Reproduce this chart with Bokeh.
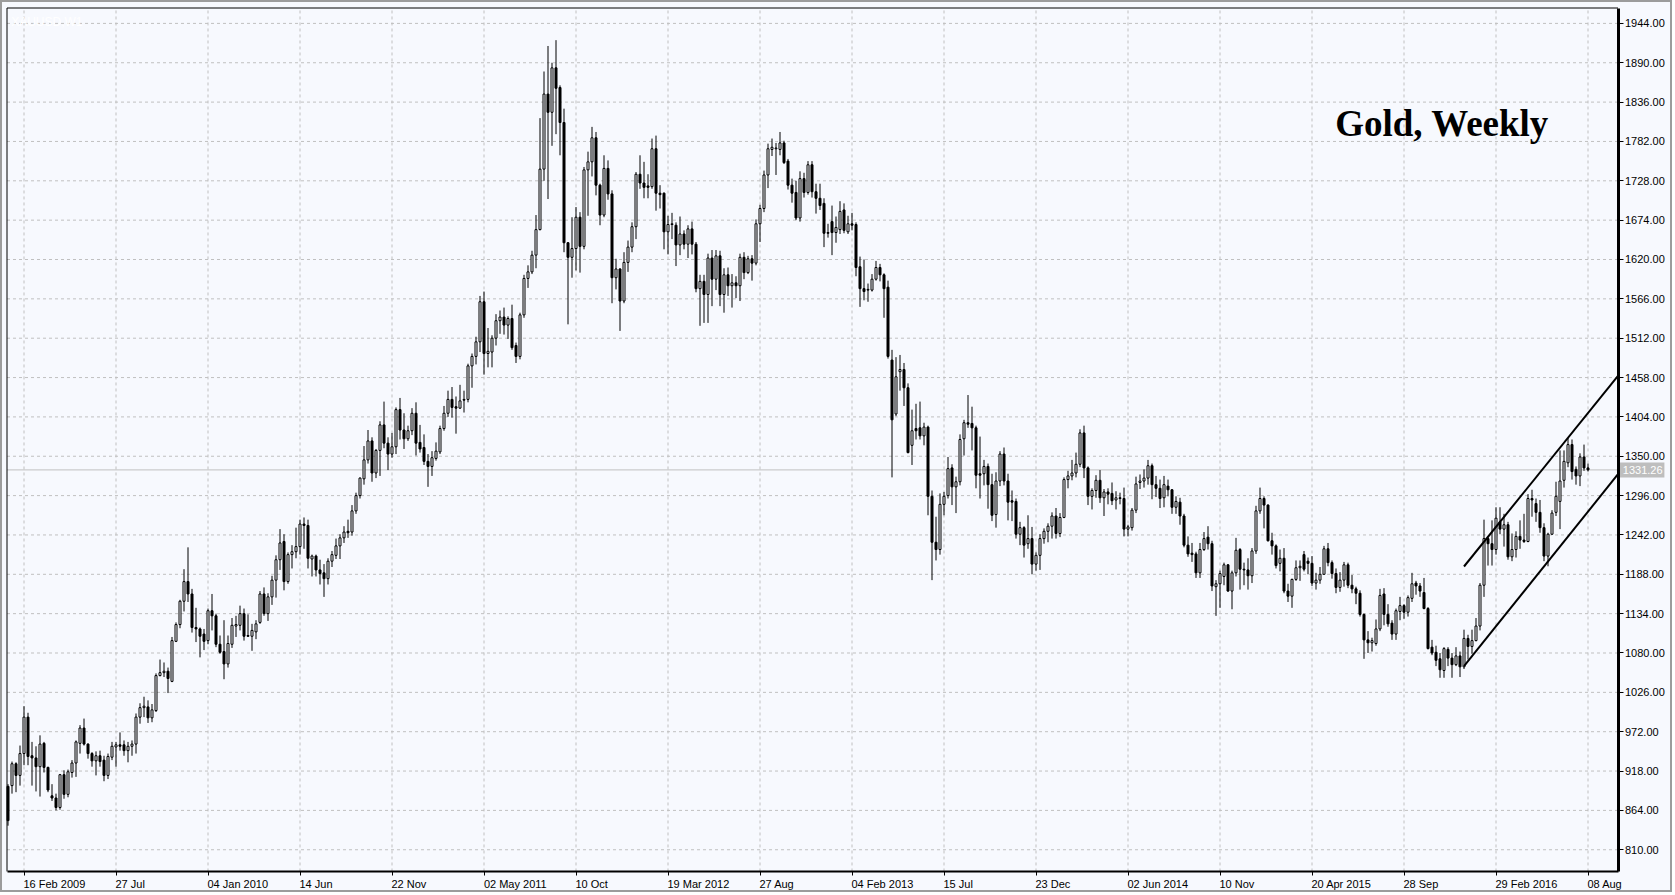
from bokeh.plotting import figure
from bokeh.models import Range1d, FixedTicker, PrintfTickFormatter, LinearAxis
from bokeh.embed import file_html
from bokeh.resources import INLINE
from bokeh.core.properties import value

# ---------------- data (weekly XAUUSD candles, Jan 2009 - Aug 2016) ----------------
opens = [
    897, 898, 928, 912, 942, 992, 939, 936, 924, 956,
    923, 884, 881, 868, 913, 886, 916, 929, 956, 977,
    955, 942, 932, 939, 933, 912, 937, 951, 954, 954,
    946, 952, 955, 992, 1005, 1006, 991, 1001, 1049, 1053,
    1055, 1041, 1096, 1119, 1151, 1178, 1161, 1115, 1113, 1106,
    1097, 1138, 1131, 1092, 1082, 1065, 1092, 1117, 1118, 1134,
    1104, 1103, 1109, 1122, 1161, 1134, 1157, 1180, 1208, 1233,
    1178, 1215, 1219, 1226, 1257, 1255, 1209, 1213, 1194, 1190,
    1182, 1206, 1214, 1227, 1238, 1247, 1246, 1275, 1296, 1319,
    1345, 1371, 1327, 1358, 1393, 1368, 1353, 1363, 1414, 1386,
    1374, 1385, 1409, 1369, 1362, 1343, 1336, 1347, 1356, 1388,
    1409, 1428, 1418, 1416, 1428, 1428, 1474, 1487, 1507, 1562,
    1491, 1493, 1512, 1536, 1541, 1530, 1539, 1502, 1487, 1544,
    1594, 1603, 1626, 1661, 1744, 1847, 1822, 1883, 1856, 1808,
    1643, 1623, 1635, 1678, 1638, 1743, 1754, 1787, 1722, 1681,
    1745, 1710, 1595, 1607, 1563, 1616, 1637, 1665, 1737, 1725,
    1721, 1720, 1772, 1711, 1711, 1658, 1668, 1667, 1640, 1655,
    1641, 1662, 1641, 1580, 1590, 1572, 1622, 1593, 1625, 1572,
    1599, 1584, 1588, 1584, 1623, 1602, 1621, 1615, 1669, 1690,
    1736, 1771, 1772, 1771, 1780, 1755, 1722, 1712, 1677, 1731,
    1712, 1750, 1713, 1704, 1697, 1657, 1672, 1657, 1661, 1688,
    1658, 1669, 1668, 1610, 1580, 1579, 1578, 1593, 1609, 1599,
    1582, 1482, 1408, 1466, 1469, 1444, 1365, 1388, 1389, 1378,
    1390, 1295, 1232, 1222, 1284, 1296, 1334, 1308, 1315, 1374,
    1396, 1395, 1389, 1326, 1326, 1336, 1311, 1270, 1316, 1353,
    1316, 1289, 1288, 1243, 1252, 1230, 1237, 1202, 1214, 1237,
    1247, 1254, 1268, 1244, 1266, 1318, 1323, 1327, 1339, 1382,
    1334, 1295, 1303, 1317, 1293, 1301, 1299, 1290, 1293, 1292,
    1250, 1252, 1276, 1314, 1316, 1320, 1337, 1311, 1306, 1293,
    1309, 1304, 1280, 1287, 1268, 1228, 1217, 1216, 1190, 1222,
    1239, 1230, 1171, 1175, 1185, 1201, 1165, 1190, 1222, 1195,
    1194, 1186, 1220, 1275, 1292, 1283, 1234, 1227, 1203, 1210,
    1165, 1158, 1181, 1197, 1215, 1206, 1203, 1176, 1180, 1188,
    1223, 1204, 1189, 1170, 1180, 1201, 1173, 1168, 1162, 1133,
    1098, 1094, 1093, 1113, 1161, 1133, 1121, 1106, 1137, 1145,
    1136, 1155, 1176, 1172, 1163, 1141, 1088, 1081, 1072, 1056,
    1085, 1073, 1064, 1076, 1061, 1100, 1089, 1097, 1117, 1173,
    1237, 1230, 1222, 1260, 1250, 1256, 1212, 1222, 1240, 1235,
    1233, 1292, 1285, 1273, 1252, 1213, 1243, 1273, 1288, 1317,
    1341, 1366, 1332, 1323, 1349, 1334,
]
highs = [
    900, 931, 930, 953, 1007, 998, 958, 952, 967, 958,
    924, 900, 887, 914, 919, 920, 933, 960, 981, 990,
    956, 944, 945, 946, 939, 942, 958, 958, 971, 960,
    958, 960, 997, 1011, 1020, 1015, 1010, 1052, 1071, 1067,
    1060, 1102, 1122, 1153, 1195, 1225, 1168, 1142, 1115, 1113,
    1141, 1161, 1134, 1104, 1125, 1104, 1128, 1131, 1145, 1141,
    1133, 1120, 1125, 1165, 1170, 1162, 1186, 1214, 1250, 1243,
    1218, 1228, 1252, 1263, 1266, 1263, 1215, 1215, 1208, 1202,
    1210, 1220, 1237, 1243, 1254, 1263, 1283, 1300, 1321, 1364,
    1386, 1376, 1360, 1398, 1425, 1376, 1382, 1417, 1430, 1409,
    1392, 1416, 1424, 1393, 1380, 1353, 1357, 1369, 1392, 1419,
    1440, 1445, 1432, 1448, 1440, 1477, 1491, 1514, 1570, 1576,
    1526, 1516, 1545, 1550, 1554, 1542, 1558, 1506, 1547, 1599,
    1612, 1632, 1681, 1814, 1878, 1913, 1890, 1921, 1859, 1827,
    1644, 1678, 1692, 1685, 1747, 1768, 1802, 1795, 1724, 1763,
    1756, 1715, 1621, 1608, 1630, 1646, 1671, 1740, 1763, 1754,
    1737, 1786, 1790, 1722, 1712, 1680, 1684, 1671, 1679, 1660,
    1667, 1672, 1644, 1599, 1599, 1628, 1633, 1633, 1632, 1608,
    1609, 1600, 1597, 1628, 1630, 1625, 1626, 1675, 1695, 1742,
    1779, 1786, 1780, 1795, 1783, 1758, 1731, 1728, 1741, 1739,
    1755, 1755, 1724, 1724, 1704, 1669, 1694, 1679, 1700, 1697,
    1680, 1684, 1671, 1624, 1620, 1587, 1600, 1618, 1614, 1601,
    1591, 1496, 1486, 1489, 1478, 1450, 1414, 1422, 1425, 1396,
    1392, 1303, 1267, 1299, 1301, 1349, 1339, 1322, 1380, 1400,
    1434, 1418, 1392, 1377, 1345, 1340, 1326, 1328, 1357, 1362,
    1326, 1303, 1292, 1260, 1254, 1269, 1253, 1218, 1243, 1251,
    1258, 1273, 1279, 1272, 1321, 1330, 1345, 1355, 1387, 1392,
    1336, 1306, 1324, 1331, 1305, 1306, 1314, 1302, 1300, 1307,
    1256, 1279, 1322, 1325, 1332, 1345, 1340, 1323, 1318, 1323,
    1318, 1305, 1295, 1293, 1271, 1240, 1231, 1219, 1231, 1246,
    1254, 1234, 1180, 1193, 1204, 1202, 1193, 1238, 1224, 1204,
    1210, 1224, 1282, 1307, 1295, 1284, 1245, 1229, 1222, 1224,
    1175, 1182, 1207, 1207, 1220, 1211, 1213, 1190, 1198, 1227,
    1231, 1207, 1196, 1191, 1205, 1204, 1187, 1171, 1166, 1134,
    1110, 1101, 1126, 1168, 1169, 1147, 1125, 1141, 1157, 1147,
    1159, 1190, 1179, 1176, 1183, 1143, 1098, 1090, 1080, 1088,
    1088, 1080, 1088, 1082, 1112, 1105, 1112, 1128, 1176, 1263,
    1240, 1262, 1280, 1280, 1271, 1260, 1244, 1247, 1262, 1271,
    1298, 1304, 1292, 1290, 1258, 1245, 1276, 1315, 1358, 1358,
    1375, 1373, 1336, 1354, 1366, 1340,
]
lows = [
    843, 887, 889, 898, 926, 926, 898, 890, 883, 916,
    889, 877, 864, 865, 880, 882, 909, 910, 942, 953,
    935, 924, 912, 924, 904, 907, 933, 924, 946, 939,
    930, 939, 942, 983, 992, 984, 985, 999, 1048, 1047,
    1025, 1040, 1095, 1114, 1137, 1150, 1108, 1095, 1074, 1084,
    1092, 1111, 1088, 1079, 1044, 1060, 1087, 1102, 1111, 1097,
    1102, 1083, 1099, 1120, 1131, 1124, 1146, 1156, 1194, 1166,
    1175, 1196, 1210, 1215, 1223, 1196, 1185, 1185, 1174, 1157,
    1174, 1198, 1209, 1209, 1231, 1238, 1241, 1271, 1292, 1311,
    1340, 1315, 1320, 1323, 1361, 1331, 1348, 1353, 1373, 1360,
    1371, 1379, 1351, 1355, 1338, 1308, 1323, 1344, 1353, 1385,
    1404, 1403, 1381, 1415, 1410, 1424, 1444, 1476, 1493, 1462,
    1472, 1472, 1502, 1518, 1517, 1511, 1496, 1478, 1483, 1540,
    1581, 1600, 1608, 1660, 1728, 1703, 1776, 1792, 1763, 1630,
    1531, 1595, 1605, 1602, 1634, 1680, 1734, 1708, 1667, 1678,
    1702, 1560, 1579, 1522, 1560, 1603, 1630, 1648, 1717, 1704,
    1704, 1717, 1687, 1690, 1634, 1627, 1648, 1611, 1626, 1634,
    1622, 1627, 1575, 1529, 1533, 1533, 1556, 1578, 1556, 1547,
    1570, 1554, 1567, 1563, 1593, 1600, 1591, 1612, 1644, 1685,
    1718, 1762, 1736, 1763, 1751, 1716, 1698, 1674, 1672, 1705,
    1709, 1705, 1683, 1688, 1637, 1650, 1626, 1643, 1655, 1656,
    1655, 1660, 1597, 1555, 1564, 1562, 1576, 1591, 1590, 1540,
    1484, 1321, 1405, 1440, 1419, 1354, 1338, 1373, 1373, 1365,
    1269, 1180, 1207, 1215, 1269, 1292, 1283, 1272, 1310, 1351,
    1389, 1358, 1306, 1292, 1310, 1278, 1261, 1252, 1309, 1310,
    1262, 1261, 1237, 1228, 1211, 1223, 1188, 1193, 1194, 1230,
    1232, 1237, 1237, 1239, 1265, 1306, 1317, 1321, 1335, 1320,
    1283, 1277, 1293, 1286, 1268, 1284, 1283, 1277, 1284, 1240,
    1240, 1248, 1272, 1305, 1307, 1311, 1291, 1294, 1279, 1280,
    1295, 1271, 1271, 1256, 1225, 1212, 1205, 1183, 1183, 1220,
    1222, 1165, 1131, 1142, 1173, 1164, 1140, 1185, 1167, 1173,
    1167, 1176, 1216, 1271, 1251, 1233, 1215, 1196, 1192, 1162,
    1150, 1142, 1179, 1179, 1192, 1188, 1172, 1167, 1175, 1188,
    1199, 1182, 1162, 1164, 1171, 1169, 1162, 1147, 1130, 1072,
    1080, 1082, 1090, 1110, 1118, 1116, 1098, 1098, 1125, 1127,
    1130, 1150, 1160, 1157, 1140, 1085, 1077, 1062, 1046, 1046,
    1062, 1046, 1062, 1047, 1058, 1071, 1079, 1096, 1111, 1157,
    1200, 1200, 1215, 1243, 1226, 1208, 1206, 1211, 1223, 1231,
    1232, 1267, 1260, 1245, 1206, 1199, 1242, 1268, 1250, 1307,
    1335, 1318, 1311, 1309, 1330, 1329,
]
closes = [
    850, 928, 912, 942, 992, 938, 936, 924, 955, 923,
    892, 881, 868, 913, 886, 917, 929, 958, 977, 955,
    942, 932, 939, 931, 912, 938, 952, 954, 952, 946,
    952, 955, 992, 1005, 1007, 991, 1002, 1049, 1053, 1055,
    1045, 1097, 1119, 1151, 1178, 1161, 1115, 1113, 1103, 1096,
    1138, 1131, 1092, 1081, 1065, 1093, 1118, 1119, 1134, 1103,
    1103, 1111, 1120, 1161, 1134, 1157, 1180, 1208, 1231, 1178,
    1215, 1219, 1226, 1257, 1255, 1210, 1213, 1194, 1189, 1182,
    1206, 1215, 1227, 1238, 1246, 1245, 1275, 1296, 1320, 1345,
    1371, 1327, 1358, 1393, 1368, 1353, 1363, 1414, 1386, 1374,
    1385, 1409, 1368, 1360, 1343, 1336, 1348, 1357, 1388, 1409,
    1428, 1417, 1416, 1426, 1427, 1474, 1487, 1507, 1562, 1491,
    1494, 1512, 1536, 1541, 1530, 1539, 1499, 1487, 1544, 1594,
    1603, 1626, 1661, 1744, 1847, 1822, 1883, 1855, 1808, 1643,
    1623, 1635, 1678, 1638, 1743, 1754, 1787, 1722, 1681, 1745,
    1710, 1595, 1607, 1563, 1616, 1637, 1665, 1737, 1725, 1719,
    1719, 1772, 1711, 1709, 1658, 1668, 1669, 1640, 1655, 1641,
    1662, 1641, 1580, 1590, 1572, 1622, 1593, 1625, 1572, 1599,
    1584, 1588, 1584, 1623, 1602, 1621, 1615, 1669, 1690, 1736,
    1772, 1774, 1773, 1780, 1753, 1722, 1711, 1677, 1731, 1712,
    1750, 1713, 1704, 1694, 1656, 1656, 1657, 1664, 1686, 1660,
    1669, 1667, 1609, 1580, 1576, 1578, 1593, 1609, 1599, 1580,
    1487, 1400, 1459, 1469, 1444, 1355, 1385, 1385, 1378, 1390,
    1295, 1232, 1222, 1284, 1295, 1333, 1308, 1315, 1373, 1396,
    1394, 1389, 1324, 1324, 1336, 1311, 1269, 1316, 1353, 1316,
    1287, 1287, 1243, 1252, 1228, 1237, 1202, 1214, 1237, 1247,
    1254, 1268, 1244, 1266, 1318, 1323, 1327, 1339, 1382, 1334,
    1295, 1303, 1317, 1293, 1301, 1298, 1289, 1293, 1292, 1250,
    1253, 1276, 1312, 1316, 1320, 1337, 1311, 1306, 1292, 1311,
    1304, 1280, 1288, 1268, 1228, 1216, 1215, 1190, 1222, 1237,
    1230, 1172, 1175, 1189, 1201, 1165, 1190, 1221, 1195, 1194,
    1186, 1220, 1275, 1292, 1283, 1234, 1227, 1200, 1210, 1165,
    1158, 1181, 1197, 1199, 1195, 1203, 1176, 1180, 1188, 1223,
    1204, 1189, 1170, 1180, 1201, 1173, 1168, 1162, 1133, 1098,
    1094, 1097, 1113, 1159, 1133, 1120, 1106, 1138, 1145, 1136,
    1156, 1175, 1172, 1165, 1141, 1086, 1080, 1070, 1057, 1086,
    1073, 1064, 1076, 1061, 1100, 1089, 1097, 1117, 1173, 1237,
    1230, 1222, 1265, 1250, 1256, 1212, 1222, 1240, 1235, 1233,
    1292, 1290, 1273, 1252, 1213, 1243, 1272, 1295, 1316, 1343,
    1366, 1329, 1323, 1349, 1334, 1331.26,
]

# time-axis labels (bar index where each label starts) and price ticks
date_labels = ["16 Feb 2009", "27 Jul", "04 Jan 2010", "14 Jun", "22 Nov", "02 May 2011",
               "10 Oct", "19 Mar 2012", "27 Aug", "04 Feb 2013", "15 Jul", "23 Dec",
               "02 Jun 2014", "10 Nov", "20 Apr 2015", "28 Sep", "29 Feb 2016", "08 Aug"]
date_label_bars = [4, 27, 50, 73, 96, 119, 142, 165, 188, 211, 234, 257,
                   280, 303, 326, 349, 372, 395]
price_ticks = [810, 864, 918, 972, 1026, 1080, 1134, 1188, 1242, 1296, 1350, 1404,
               1458, 1512, 1566, 1620, 1674, 1728, 1782, 1836, 1890, 1944]
last_price = 1331.26

# hand-drawn trend channel (bar index, price)
channel_upper_x = [364, 402.5]
channel_upper_y = [1198.7, 1460.3]
channel_lower_x = [364, 402.5]
channel_lower_y = [1062.0, 1325.3]

# ---------------- layout constants ----------------
BG = "#F7F9FE"
GRID = "#C0C0C0"
FONT = "Liberation Sans"
PX_PER_BAR = 4.0
PX_PER_USD = 0.7287
W, H = 1672, 892
# chart box in data units
X_LEFT, X_RIGHT = -0.25, 402.5          # left border / price-axis line
Y_BOTTOM, Y_TOP = 780.2, 1965.13        # time-axis line / top border

x0 = -7.5 / PX_PER_BAR
y_top_canvas = 1944 + 22.9 / PX_PER_USD

p = figure(frame_width=W, frame_height=H,
           x_range=Range1d(x0, x0 + W / PX_PER_BAR),
           y_range=Range1d(y_top_canvas - H / PX_PER_USD, y_top_canvas),
           output_backend="svg", toolbar_location=None,
           x_axis_location=None, y_axis_location=None,
           min_border_left=0, min_border_right=0, min_border_top=0, min_border_bottom=0,
           background_fill_color=BG, border_fill_color=BG)
p.outline_line_color = "#9C9C9C"
p.outline_line_width = 3
p.xgrid.visible = False
p.ygrid.visible = False

# dashed grid inside the chart box
p.segment(x0=[X_LEFT] * len(price_ticks), y0=price_ticks,
          x1=[X_RIGHT] * len(price_ticks), y1=price_ticks,
          line_color=GRID, line_width=1, line_dash="3 3")
p.segment(x0=date_label_bars, y0=[Y_BOTTOM] * len(date_label_bars),
          x1=date_label_bars, y1=[Y_TOP] * len(date_label_bars),
          line_color=GRID, line_width=1, line_dash="3 3")

# current price line
p.segment(x0=[X_LEFT], y0=[last_price], x1=[X_RIGHT], y1=[last_price],
          line_color=GRID, line_width=1)

# chart border (top and left)
p.segment(x0=[X_LEFT, X_LEFT], y0=[Y_TOP, Y_BOTTOM], x1=[X_RIGHT, X_LEFT], y1=[Y_TOP, Y_TOP],
          line_color="black", line_width=1)

# candles
idx = list(range(len(opens)))
up_x, up_top, up_bot, dn_x, dn_top, dn_bot = [], [], [], [], [], []
for i, (o, c) in enumerate(zip(opens, closes)):
    if c >= o:
        up_x.append(i); up_top.append(c); up_bot.append(o)
    else:
        dn_x.append(i); dn_top.append(o); dn_bot.append(c)

p.segment(x0=idx, y0=lows, x1=idx, y1=highs, line_color="black", line_width=1)
p.vbar(x=up_x, width=0.5, top=up_top, bottom=up_bot, fill_color=BG,
       line_color="black", line_width=1)
p.vbar(x=dn_x, width=0.5, top=dn_top, bottom=dn_bot, fill_color="black",
       line_color="black", line_width=1)

# trend channel
p.line(channel_upper_x, channel_upper_y, line_color="black", line_width=2)
p.line(channel_lower_x, channel_lower_y, line_color="black", line_width=2)

# ---------------- axes (placed at the chart box edges) ----------------
yax = LinearAxis(fixed_location=X_RIGHT, bounds=(Y_BOTTOM, Y_TOP),
                 ticker=FixedTicker(ticks=price_ticks),
                 formatter=PrintfTickFormatter(format="%.2f"))
yax.axis_line_width = 3
yax.axis_line_color = "black"
yax.major_tick_out = 5
yax.major_tick_in = 0
yax.minor_tick_out = 0
yax.minor_tick_in = 0
yax.major_tick_line_color = "black"
yax.major_label_standoff = 2
yax.major_label_text_font = FONT
yax.major_label_text_font_size = "11px"
yax.major_label_text_color = "black"
p.add_layout(yax, "right")

# time axis: minor ticks mark the grid dates, labels are centred so they start at the tick
char_w = {" ": 278, "A": 667, "D": 722, "F": 611, "J": 500, "M": 833, "N": 722, "O": 778,
          "S": 667, "a": 556, "b": 556, "c": 500, "e": 556, "g": 556, "l": 222, "n": 556,
          "o": 556, "p": 556, "r": 333, "t": 278, "u": 556, "v": 500, "y": 500}
label_centres = []
for b, t in zip(date_label_bars, date_labels):
    w_px = sum(char_w.get(ch, 556) for ch in t) * 11 / 1000.0
    label_centres.append(round(b + (w_px / 2 - 0.5) / PX_PER_BAR, 3))

xax = LinearAxis(fixed_location=Y_BOTTOM, bounds=(X_LEFT, X_RIGHT),
                 ticker=FixedTicker(ticks=label_centres, minor_ticks=date_label_bars))
xax.major_label_overrides = {c: t for c, t in zip(label_centres, date_labels)}
xax.axis_line_width = 2
xax.axis_line_color = "black"
xax.major_tick_out = 0
xax.major_tick_in = 0
xax.minor_tick_out = 4
xax.minor_tick_in = 0
xax.minor_tick_line_color = "black"
xax.major_label_standoff = 3
xax.major_label_text_font = FONT
xax.major_label_text_font_size = "11px"
xax.major_label_text_color = "black"
p.add_layout(xax, "below")

# price tag of the last quote
tag_half = 7.5 / PX_PER_USD
p.quad(left=[X_RIGHT + 0.4], right=[X_RIGHT + 11.6],
       bottom=[last_price - tag_half], top=[last_price + tag_half],
       fill_color="#BEBEBE", line_color=None)
p.text(x=[X_RIGHT + 1.2], y=[last_price], text=["1331.26"], text_font=value(FONT),
       text_font_size="11px", text_color="white", text_align="left",
       text_baseline="middle")

# texts
p.text(x=[331.8], y=[1806.5], text=["Gold, Weekly"], text_font=value("Liberation Serif"),
       text_font_style="bold", text_font_size="37px", text_color="black",
       text_align="left", text_baseline="alphabetic")
p.text(x=[0.8], y=[1945.3], text=["XAUUSD,W1"], text_font=value(FONT),
       text_font_size="12px", text_color="white", text_align="left",
       text_baseline="alphabetic")

open("out.html", "w").write(file_html(p, INLINE))
